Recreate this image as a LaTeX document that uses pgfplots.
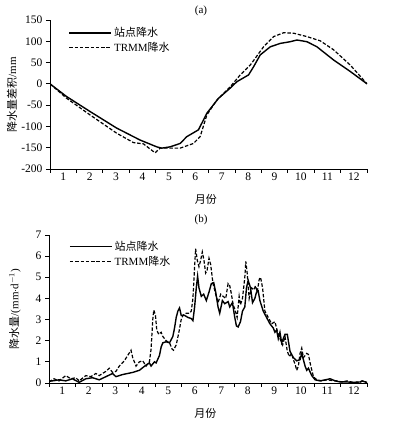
\documentclass[border=0pt]{standalone}
\usepackage{fontspec}
\setmainfont{Liberation Serif}
\newfontfamily\cjk{Noto Sans CJK SC}
\usepackage{pgfplots}
\pgfplotsset{compat=1.18}
\pgfplotsset{
 common/.style={scale only axis, axis lines=left, axis line style={-, line width=0.8pt},
  xmin=0, xmax=12, xtick={0,...,12}, xticklabels={},
  extra x ticks={0.5,1.5,2.5,3.5,4.5,5.5,6.5,7.5,8.5,9.5,10.5,11.5},
  extra x tick labels={1,2,3,4,5,6,7,8,9,10,11,12},
  extra x tick style={major tick length=0pt},
  tick align=outside, major tick length=4pt, tick style={black, line width=0.8pt},
  ticklabel style={font=\fontsize{11.5}{13}\selectfont},
  /pgf/number format/assume math mode=true,
  legend style={draw=none, fill=none, font=\fontsize{11}{13}\selectfont, anchor=north west, row sep=0pt, inner sep=1pt},
  legend cell align=left,
  legend image code/.code={\draw[##1] (0pt,0pt) -- (42pt,0pt);},
  xlabel={\cjk 月份}, xlabel style={at={(axis description cs:0.492,0)}, anchor=center, yshift=-30pt, font=\fontsize{11}{13}\selectfont},
  ylabel style={anchor=center, font=\fontsize{11}{13}\selectfont},
 },
}
\begin{document}
\begin{tikzpicture}
\path[use as bounding box] (0pt,0pt) rectangle (394pt,427pt);
\begin{axis}[common, at={(50pt,258pt)}, anchor=south west, width=317pt, height=149pt,
  ymin=-200, ymax=150, ytick={-200,-150,...,150},
  ylabel={{\cjk 降水量差积}/mm}, ylabel style={at={(axis description cs:-0.12,0.5)}},
  legend style={at={(axis description cs:0.055,0.97)}}]
\addplot[black, line width=1.4pt, solid] coordinates {
(0,0) (0.632,-30) (1.516,-65) (2.526,-104) (3.41,-132) (4.042,-148) (4.23,-151)
(4.547,-148) (4.926,-140) (5.179,-124) (5.62,-108) (5.937,-69) (6.379,-34)
(6.821,-10) (7.073,5) (7.516,21) (7.705,40) (7.958,68) (8.337,87) (8.715,95)
(9.094,99) (9.347,103) (9.726,99) (10.105,87) (10.736,56) (11.368,29) (12,0)};
\addlegendentry{\cjk 站点降水}
\addplot[black, line width=1.2pt, dash pattern=on 3.5pt off 1.8pt] coordinates {
(0,0) (0.632,-34) (1.516,-73) (2.526,-116) (3.158,-138) (3.537,-141) (3.979,-162)
(4.168,-151) (4.926,-151) (5.431,-140) (5.684,-124) (5.937,-73) (6.316,-38)
(6.821,-7) (7.2,21) (7.579,44) (8.084,87) (8.463,111) (8.842,120) (9.221,119)
(9.726,111) (10.231,101) (10.736,80) (11.368,44) (12,0)};
\addlegendentry{TRMM{\cjk 降水}}
\end{axis}
\node[font=\fontsize{11}{13}\selectfont] at (201pt,416pt) {(a)};
\begin{axis}[common, at={(49pt,44pt)}, anchor=south west, width=318pt, height=148pt,
  ymin=0, ymax=7, ytick={0,1,...,7},
  ylabel={{\cjk 降水量}/(mm$\cdot$d$^{-1}$)}, ylabel style={at={(axis description cs:-0.107,0.5)}},
  legend style={at={(axis description cs:0.06,0.98)}}]
\addplot[black, line width=1.4pt, solid] coordinates {
(0,0.08) (0.126,0.1) (0.379,0.15) (0.632,0.1) (0.884,0.2) (1.137,0.03) (1.389,0.2)
(1.642,0.25) (1.895,0.15) (2.147,0.3) (2.4,0.45) (2.526,0.3) (2.779,0.4) (3.158,0.5)
(3.41,0.6) (3.663,0.85) (3.789,0.95) (3.852,0.8) (3.979,1.0) (4.042,0.95) (4.168,1.3)
(4.231,1.7) (4.295,1.9) (4.421,1.95) (4.547,1.9) (4.673,2.2) (4.737,2.6) (4.8,3.1)
(4.863,3.4) (4.926,3.55) (4.989,3.2) (5.116,3.2) (5.242,3.1) (5.368,3.05) (5.431,2.95)
(5.495,3.6) (5.558,4.5) (5.608,5.05) (5.659,4.5) (5.747,4.1) (5.836,4.2) (5.937,3.9)
(6.038,4.3) (6.126,4.7) (6.215,4.75) (6.29,4.3) (6.379,3.6) (6.442,3.3) (6.543,3.9)
(6.631,3.75) (6.758,3.85) (6.821,3.6) (6.922,3.8) (7.01,3.1) (7.073,2.7) (7.137,2.65)
(7.225,2.9) (7.301,3.4) (7.389,3.6) (7.452,4.5) (7.516,4.85) (7.604,4.5) (7.68,3.8)
(7.768,4.0) (7.831,4.3) (7.894,4.35) (7.958,3.9) (8.084,3.4) (8.21,3.1) (8.337,2.8)
(8.463,2.6) (8.526,2.4) (8.589,2.5) (8.652,2.1) (8.715,2.4) (8.779,1.9) (8.905,2.3)
(8.993,2.3) (9.094,1.5) (9.221,1.2) (9.347,1.05) (9.473,1.1) (9.537,1.4) (9.6,1.1)
(9.663,0.8) (9.726,0.6) (9.789,0.7) (9.915,0.35) (10.042,0.15) (10.231,0.1)
(10.421,0.15) (10.61,0.2) (10.8,0.1) (10.989,0.05) (11.242,0.05) (11.494,0.03)
(11.747,0.05) (11.81,0.1) (12,0.02)};
\addlegendentry{\cjk 站点降水}
\addplot[black, line width=1.2pt, dash pattern=on 3.5pt off 1.8pt] coordinates {
(0,0.05) (0.19,0.2) (0.379,0.1) (0.632,0.35) (0.821,0.2) (1.01,0.25) (1.137,0.1)
(1.389,0.35) (1.579,0.3) (1.768,0.45) (1.895,0.35) (2.147,0.55) (2.274,0.7) (2.4,0.5)
(2.526,0.55) (2.653,0.8) (2.842,1.05) (2.968,1.3) (3.095,1.55) (3.158,1.2) (3.284,0.8)
(3.41,1.0) (3.537,1.05) (3.663,0.8) (3.789,1.0) (3.852,1.6) (3.916,3.0) (3.954,3.45)
(4.017,3.2) (4.067,2.5) (4.143,2.3) (4.231,2.4) (4.295,2.2) (4.421,2.0) (4.547,1.9)
(4.648,1.6) (4.699,1.55) (4.8,1.8) (4.901,2.4) (4.989,3.0) (5.052,3.2) (5.179,3.3)
(5.305,3.3) (5.368,3.4) (5.431,4.0) (5.495,5.5) (5.532,6.35) (5.596,5.8) (5.659,5.5)
(5.722,5.8) (5.785,6.2) (5.848,5.8) (5.911,5.2) (5.962,5.3) (6.038,5.9) (6.101,5.6)
(6.189,4.7) (6.29,4.2) (6.379,3.8) (6.48,4.2) (6.568,4.1) (6.669,4.0) (6.758,4.7)
(6.821,4.6) (6.884,4.2) (6.947,3.7) (7.01,3.5) (7.099,3.1) (7.175,4.1) (7.225,3.7)
(7.301,4.0) (7.389,5.0) (7.427,5.75) (7.478,5.2) (7.553,4.0) (7.642,4.5) (7.73,4.4)
(7.793,4.6) (7.857,4.3) (7.932,4.9) (7.983,5.0) (8.059,4.5) (8.147,3.4) (8.273,3.1)
(8.4,2.8) (8.526,2.9) (8.627,2.4) (8.715,2.1) (8.816,1.8) (8.905,2.2) (8.993,1.5)
(9.069,1.25) (9.158,1.4) (9.221,1.1) (9.284,0.9) (9.347,0.6) (9.41,0.8) (9.473,1.4)
(9.537,1.65) (9.6,1.2) (9.663,1.3) (9.726,1.4) (9.789,1.35) (9.878,0.8) (9.979,0.3)
(10.105,0.15) (10.294,0.1) (10.484,0.15) (10.673,0.12) (10.863,0.1) (11.052,0.05)
(11.242,0.1) (11.494,0.02) (11.747,0.05) (11.873,0.1) (12,0.02)};
\addlegendentry{TRMM{\cjk 降水}}
\end{axis}
\node[font=\fontsize{11}{13}\selectfont] at (201pt,207pt) {(b)};
\end{tikzpicture}
\end{document}
